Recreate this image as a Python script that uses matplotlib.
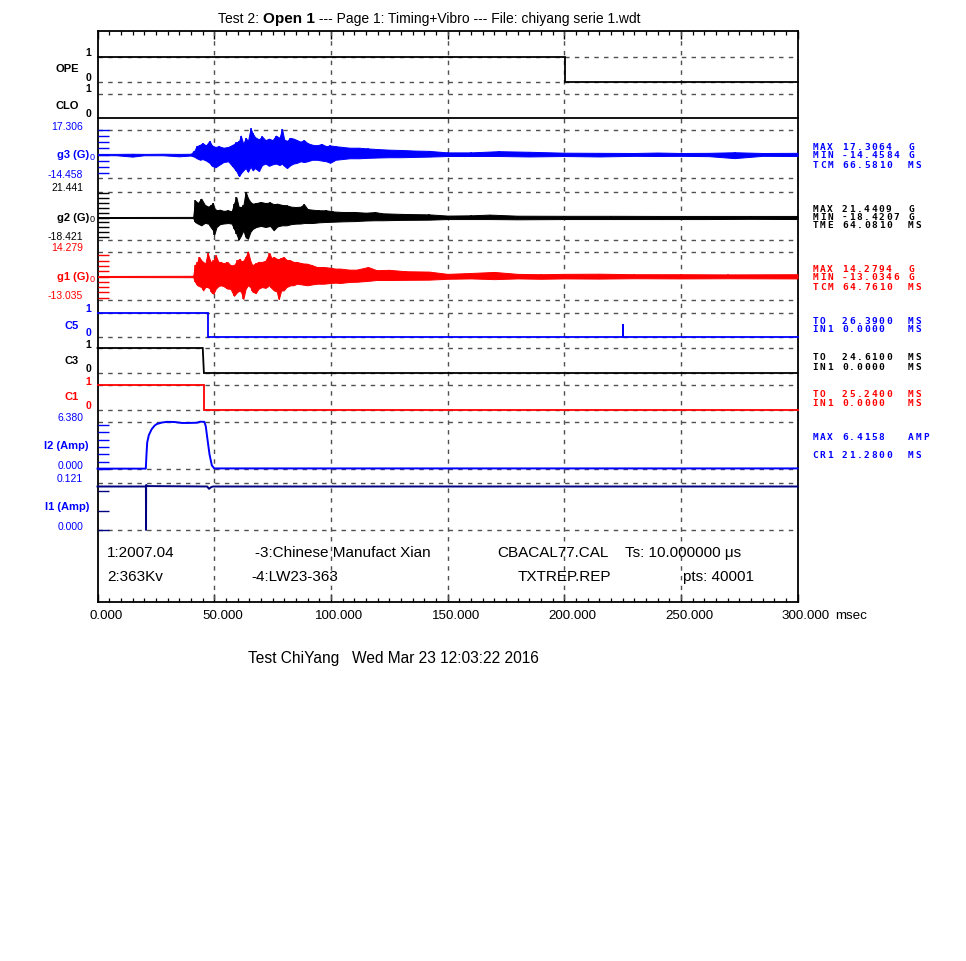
import matplotlib
matplotlib.use("Agg")
import matplotlib.pyplot as plt
from matplotlib.ticker import MultipleLocator

# ---------------- data ----------------
title_parts = ["Test 2: ", "Open 1", " --- Page 1: Timing+Vibro --- File: chiyang serie 1.wdt"]
x_ticks = [0, 50, 100, 150, 200, 250, 300]
x_tick_labels = ["0.000", "50.000", "100.000", "150.000", "200.000", "250.000", "300.000"]
x_unit = "msec"
grid_x = [50, 100, 150, 200, 250]

# digital channels (time ms, state)
ope_t = [0, 200.4, 300]
ope_v = [1, 0, 0]
clo_t = [0, 300]
clo_v = [0, 0]
c5_t = [0, 47.3, 225.0, 225.15, 300]
c5_v = [1, 0, 0.55, 0, 0]
c3_t = [0, 45.1, 45.6, 300]
c3_v = [1, 1, 0, 0]
c1_t = [0, 45.8, 300]
c1_v = [1, 0, 0]

# vibration envelopes (time ms, upper G, lower G)
g3_t = [0, 8, 15, 20, 28, 35, 40.0, 41.5, 42.5, 44.0, 45.0, 46.5, 48.0, 49.0, 50.5, 52.0, 54.0, 56.0,
        58.0, 59.5, 60.7, 61.4, 62.5, 63.5, 64.5, 65.6, 66.5, 67.5, 69.2, 70.5, 72.0, 73.5, 75.0,
        76.5, 78.0, 79.1, 80.0, 81.2, 82.7, 84.0, 85.5, 87.0, 88.5, 90.0, 92.0, 94.0, 96.0, 98.0,
        99.7, 102, 105, 108, 112, 116, 120, 125, 130, 136, 142, 150, 160, 172, 185, 200, 215, 230,
        240, 250, 262, 273, 285, 300]
g3_up = [0.4, 0.4, 0.5, 0.4, 0.5, 0.4, 0.5, 2.5, 5.5, 6.5, 7.5, 6.0, 9.0, 6.0, 5.0, 5.5, 4.5, 5.0,
         6.5, 8.0, 9.0, 12.5, 7.0, 11.0, 9.0, 17.3, 14.0, 11.5, 10.0, 12.0, 9.5, 10.5, 9.5,
         12.5, 11.0, 16.8, 10.0, 9.0, 11.0, 10.5, 9.5, 8.5, 9.5, 7.5, 6.5, 6.0, 7.0, 5.5,
         6.0, 5.5, 5.0, 4.5, 4.5, 4.0, 3.6, 3.2, 3.0, 2.6, 2.4, 1.4, 1.4, 2.2, 1.8, 1.2, 1.1, 1.0,
         1.3, 1.0, 1.1, 1.5, 1.0, 1.1]
g3_lo = [-0.4, -0.5, -1.4, -0.5, -0.5, -1.2, -0.7, -1.5, -2.5, -3.5, -3.0, -4.0, -5.5, -7.5, -8.5, -7.0, -5.0, -4.5,
         -8.0, -11.0, -14.4, -12.5, -10.5, -9.0, -11.5, -8.0, -10.5, -9.0, -11.0, -7.0, -6.0, -7.5, -6.5,
         -6.0, -7.0, -6.0, -7.5, -9.0, -7.0, -6.0, -5.5, -4.5, -5.0, -4.5, -3.5, -3.5, -4.0, -4.5,
         -5.5, -3.5, -3.0, -2.5, -2.5, -2.2, -2.0, -1.8, -1.8, -1.6, -1.4, -1.0, -1.0, -1.0, -1.3, -1.0, -1.3, -0.9,
         -1.0, -0.9, -1.1, -2.4, -0.9, -1.0]

g2_t = [0, 41.0, 41.8, 43.0, 44.5, 46.0, 47.5, 48.5, 49.5, 50.0, 51.0, 52.5, 54.0, 56.0, 57.5, 58.5,
        59.5, 60.5, 61.5, 62.5, 63.5, 64.5, 65.5, 66.5, 68.0, 70.0, 72.0, 74.0, 75.5, 77.0, 79.0,
        81.0, 83.0, 85.0, 87.0, 88.5, 90.0, 92.0, 95.0, 98.0, 101, 105, 110, 115, 119, 122, 130,
        142, 150, 160, 168, 180, 200, 220, 240, 260, 280, 300]
g2_up = [0.4, 0.5, 14.2, 12.0, 15.6, 10.5, 9.0, 10.1, 12.0, 8.0, 6.0, 6.5, 5.5, 6.0, 5.0, 11.5,
         17.0, 9.0, 8.7, 10.0, 21.4, 16.0, 13.0, 11.5, 12.0, 12.9, 12.0, 12.5, 11.0, 11.5, 10.5,
         10.1, 9.0, 8.7, 9.0, 11.0, 7.0, 6.5, 6.0, 6.0, 5.0, 4.6, 4.6, 4.0, 4.5, 3.5, 3.0,
         2.6, 1.6, 1.8, 2.4, 1.5, 1.4, 1.4, 1.3, 1.3, 1.3, 1.3]
g2_lo = [-0.4, -0.5, -3.7, -5.1, -6.5, -4.5, -5.1, -8.0, -10.6, -14.5, -7.9, -5.5, -5.0, -4.6, -5.1, -9.3,
         -13.4, -18.4, -15.0, -10.6, -16.5, -17.6, -12.0, -9.5, -7.9, -7.0, -7.9, -7.0, -10.6, -7.5, -6.5,
         -6.5, -5.5, -5.1, -5.0, -4.6, -4.6, -4.6, -4.0, -3.7, -3.5, -3.2, -3.0, -2.5, -2.3, -2.3, -2.0,
         -1.8, -1.3, -1.3, -1.3, -1.5, -1.3, -1.3, -1.3, -1.3, -1.1, -1.3]

g1_t = [0, 41.0, 41.8, 42.8, 43.6, 44.5, 45.3, 46.2, 47.2, 48.2, 48.8, 49.7, 50.7, 51.8, 52.8, 54.0,
        55.7, 57.0, 58.5, 59.9, 61.0, 61.6, 62.5, 63.5, 64.5, 65.5, 66.3, 67.8, 69.0, 70.5, 72.0,
        73.7, 74.5, 75.6, 76.8, 77.7, 78.7, 79.8, 81.0, 82.7, 84.0, 85.5, 87.5, 89.8, 92.0, 94.0,
        97.0, 99.7, 102, 104, 108, 111, 116, 119.6, 125, 132, 142, 150, 160, 170, 180, 190, 200,
        215, 230, 250, 270, 300]
g1_up = [0.3, 0.4, 6.4, 8.3, 11.1, 9.2, 8.3, 7.3, 13.4, 9.2, 8.0, 9.2, 12.0, 8.3, 8.3, 7.5,
         8.3, 6.4, 6.4, 9.2, 10.1, 8.5, 9.0, 11.0, 14.2, 9.0, 6.4, 7.5, 8.3, 8.3, 9.0,
         13.4, 10.5, 11.1, 10.1, 9.8, 10.5, 11.1, 9.5, 9.2, 8.3, 8.3, 7.5, 7.3, 6.4, 5.4,
         5.4, 5.0, 4.5, 4.5, 3.9, 3.9, 5.4, 3.6, 3.8, 3.0, 2.8, 1.5, 2.0, 2.6, 1.5, 1.3, 1.5,
         1.6, 1.3, 1.3, 1.2, 1.3]
g1_lo = [-0.3, -0.4, -3.1, -5.0, -5.5, -6.0, -7.9, -6.0, -6.0, -7.0, -9.0, -9.8, -6.9, -5.5, -5.0, -5.5,
         -6.9, -7.0, -11.0, -8.8, -8.0, -9.0, -12.8, -7.0, -5.0, -6.0, -8.5, -9.5, -7.0, -6.0, -6.5,
         -5.0, -6.5, -7.9, -8.5, -13.0, -8.0, -7.9, -6.0, -5.0, -5.0, -4.1, -4.5, -5.0, -4.5, -4.1,
         -4.1, -3.7, -3.5, -3.7, -3.1, -3.0, -2.5, -2.0, -2.0, -1.9, -1.8, -1.3, -1.1, -1.5, -1.1, -1.3, -1.1,
         -1.2, -1.0, -1.1, -1.0, -1.1]

# coil currents
i2_t = [0, 20.7, 21.0, 21.3, 22.0, 23.2, 24.5, 25.4, 27.5, 29.7, 33.0, 36.1, 39.0, 42.6, 44.0,
        45.8, 46.4, 47.1, 48.0, 49.0, 50.0, 300]
i2_v = [0.05, 0.05, 2.0, 3.6, 4.6, 5.4, 5.9, 6.1, 6.3, 6.4, 6.38, 6.25, 6.25, 6.28, 6.42,
        6.4, 5.8, 4.1, 2.0, 0.5, 0.08, 0.08]
i1_t = [0, 20.75, 20.8, 20.85, 21.4, 47.0, 47.8, 48.6, 49.5, 300]
i1_v = [0.112, 0.112, 0.0, 0.116, 0.113, 0.112, 0.106, 0.110, 0.112, 0.112]

# channel range labels
g3_range = (17.306, -14.458)
g2_range = (21.441, -18.421)
g1_range = (14.279, -13.035)
i2_range = (6.380, 0.000)
i1_range = (0.121, 0.000)

# right side statistics
stats = [
    ("blue", ["MAX 17.3064  G", "MIN -14.4584 G", "TCM 66.5810  MS"]),
    ("black", ["MAX 21.4409  G", "MIN -18.4207 G", "TME 64.0810  MS"]),
    ("red", ["MAX 14.2794  G", "MIN -13.0346 G", "TCM 64.7610  MS"]),
    ("blue", ["TO  26.3900  MS", "IN1 0.0000   MS"]),
    ("black", ["TO  24.6100  MS", "IN1 0.0000   MS"]),
    ("red", ["TO  25.2400  MS", "IN1 0.0000   MS"]),
    ("blue", ["MAX 6.4158   AMP", "CR1 21.2800  MS"]),
]
info_row1 = ["1:2007.04", "-3:Chinese Manufact Xian", "CBACAL77.CAL", "Ts: 10.000000 \u03bcs"]
info_row2 = ["2:363Kv", "-4:LW23-363", "TXTREP.REP", "pts: 40001"]
footer = "Test ChiYang   Wed Mar 23 12:03:22 2016"

# ---------------- layout ----------------
W, H = 966, 962
PX0, PX1 = 97.5, 797.5
PY0, PY1 = 32.0, 603.0
BLUE, RED, NAVY = "#0000ff", "#ff0000", "#000080"
SANS = "Liberation Sans"
plt.rcParams["font.family"] = [SANS, "DejaVu Sans"]

fig = plt.figure(figsize=(W / 100, H / 100), dpi=100)
fig.patch.set_facecolor("white")


def ftext(x, y, s, **kw):
    kw.setdefault("va", "center")
    return fig.text(x / W, 1 - y / H, s, **kw)


def band(top_px, bot_px, z=3):
    a = fig.add_axes([PX0 / W, 1 - bot_px / H, (PX1 - PX0) / W, (bot_px - top_px) / H])
    a.set_xlim(0, 300)
    a.patch.set_alpha(0)
    for s in a.spines.values():
        s.set_visible(False)
    a.set_xticks([])
    a.set_yticks([])
    a.set_zorder(z)
    return a


# frame with grid
frame = band(PY0, PY1, z=1)
frame.set_ylim(PY1, PY0)
for s in frame.spines.values():
    s.set_visible(True)
    s.set_linewidth(1.3)
frame.set_xticks(x_ticks)
frame.xaxis.set_minor_locator(MultipleLocator(5))
frame.tick_params(axis="x", which="both", direction="in", top=True, bottom=True,
                  labelbottom=False, labeltop=False)
frame.tick_params(axis="x", which="major", length=6, width=1)
frame.tick_params(axis="x", which="minor", length=3, width=0.9)
dash = (0, (3.2, 3.8))
dash_rows = [58, 83, 95, 131, 179, 193, 241, 253, 301, 314, 338, 349, 374, 386, 411, 423, 470, 484, 531]
frame.hlines(dash_rows, 0, 300, colors="#505050", linestyles=dash, lw=1.0)
frame.vlines(grid_x, PY0, PY1, colors="#505050", linestyles=dash, lw=1.0)

# digital channels
digital = [
    ("OPE", "black", 58, 83, ope_t, ope_v, "steps-post", (53, 69, 78)),
    ("CLO", "black", 95, 119, clo_t, clo_v, "default", (89, 106, 114)),
    ("C5", BLUE, 314, 338, c5_t, c5_v, "steps-post", (309, 326, 333)),
    ("C3", "black", 349, 374, c3_t, c3_v, "default", (345, 361, 369)),
    ("C1", RED, 386, 411, c1_t, c1_v, "steps-post", (382, 397, 406)),
]
for name, col, ytop, ybot, t, v, ds, (y1, yn, y0) in digital:
    a = band(ytop, ybot)
    a.set_ylim(0, 1)
    a.plot(t, v, color=col, lw=1.3, drawstyle=ds, clip_on=False, solid_joinstyle="miter")
    ftext(88, y1, "1", color=col, fontsize=7.5, fontweight="bold", ha="center")
    ftext(88, y0, "0", color=col, fontsize=7.5, fontweight="bold", ha="center")
    ftext(79, yn, name, color=col, fontsize=8, fontweight="bold", ha="right")

# vibration channels
vib = [
    ("g3 (G)", BLUE, 155.5, g3_range, 1.511, g3_t, g3_up, g3_lo, 4, (127, 155, 175)),
    ("g2 (G)", "black", 218.5, g2_range, 1.204, g2_t, g2_up, g2_lo, 4, (188, 218, 237)),
    ("g1 (G)", RED, 277.5, g1_range, 1.757, g1_t, g1_up, g1_lo, 3, (248, 277, 296)),
]
for name, col, zero_px, (vmax, vmin), k, t, up, lo, step, (yt, yn, yb) in vib:
    a = band(zero_px - vmax * k, zero_px - vmin * k)
    a.set_ylim(vmin, vmax)
    a.fill_between(t, lo, up, facecolor=col, edgecolor=col, lw=0.7)
    a.vlines(t, lo, up, colors=col, lw=1.1)
    a.yaxis.set_major_locator(MultipleLocator(step))
    a.tick_params(axis="y", direction="in", length=8, width=1, colors=col,
                  labelleft=False, left=True, right=False)
    ftext(83, yt, f"{vmax:.3f}", color=col, fontsize=7.5, ha="right")
    ftext(83, yb, f"{vmin:.3f}", color=col, fontsize=7.5, ha="right")
    ftext(89, yn, name, color=col, fontsize=8, fontweight="bold", ha="right")
    ftext(89.5, yn + 2, "0", color=col, fontsize=6.5, ha="left")

# current channels
cur = [
    ("I2 (Amp)", BLUE, BLUE, 423, 470, i2_range, i2_t, i2_v, 1.0, (418, 446, 466)),
    ("I1 (Amp)", BLUE, NAVY, 484, 531, i1_range, i1_t, i1_v, 0.05, (479, 507, 527)),
]
for name, lcol, col, ytop, ybot, (vmax, vmin), t, v, step, (yt, yn, yb) in cur:
    a = band(ytop, ybot)
    a.set_ylim(vmin, vmax)
    a.plot(t, v, color=col, lw=1.4, clip_on=False)
    a.yaxis.set_major_locator(MultipleLocator(step))
    a.tick_params(axis="y", direction="in", length=8, width=1, colors=col,
                  labelleft=False, left=True, right=False)
    ftext(83, yt, f"{vmax:.3f}", color=lcol, fontsize=7.5, ha="right")
    ftext(83, yb, f"{vmin:.3f}", color=lcol, fontsize=7.5, ha="right")
    ftext(89, yn, name, color=lcol, fontsize=8, fontweight="bold", ha="right")

# right side statistics (fixed character grid)
stat_rows = [[147, 156, 165], [209, 217, 226], [269, 278, 287], [321, 330], [358, 367], [395, 404], [438, 456]]
CW = 7.35
for (col, lines), ys in zip(stats, stat_rows):
    for line, y in zip(lines, ys):
        for i, ch in enumerate(line):
            if ch != " ":
                ftext(812.5 + i * CW, y, ch, color=col, fontsize=6.8, fontweight="bold",
                      family="DejaVu Sans Mono", ha="left")

# x tick labels
for xv, lab in zip(x_ticks, x_tick_labels):
    xp = PX0 + (PX1 - PX0) * xv / 300
    ftext(xp + 8.5, 616, lab, fontsize=9.6, ha="center")
ftext(PX1 + 38, 616, x_unit, fontsize=9.6, ha="left")

# info block
for s, x in zip(info_row1, [107, 255, 497, 625]):
    ftext(x, 553, s, fontsize=11, ha="left")
for s, x in zip(info_row2, [107, 251, 518, 683]):
    ftext(x, 577, s, fontsize=11, ha="left")
ftext(248, 659, footer, fontsize=11.2, ha="left")

# title (mixed weights)
renderer = fig.canvas.get_renderer()
x = 218.0
for s, wt, fs in zip(title_parts, ["normal", "bold", "normal"], [10, 11, 10]):
    t = fig.text(x / W, 1 - 23 / H, s, fontsize=fs, fontweight=wt, ha="left", va="baseline")
    bb = t.get_window_extent(renderer)
    x = bb.x1

fig.savefig("out.png", dpi=100, facecolor="white")
